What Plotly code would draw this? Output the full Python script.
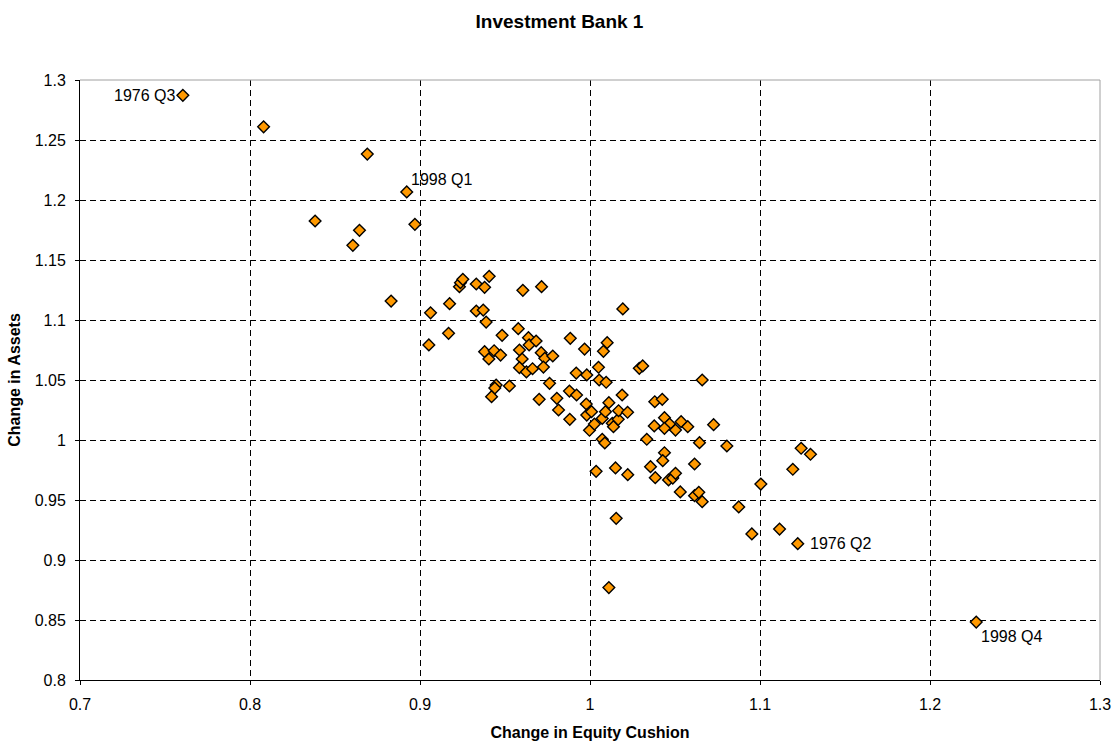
import plotly.graph_objects as go

# Quarterly changes: equity cushion (x) vs. total assets (y)
equity_cushion = [
    0.7605, 0.808, 0.869, 0.8922, 0.8383, 0.8644, 0.8605, 0.897,
    0.883, 0.9062, 0.9174, 0.9052, 0.9168, 0.9232, 0.9238, 0.9252,
    0.9331, 0.938, 0.9407, 0.9331, 0.9372, 0.9389, 0.9605, 0.9715,
    0.9483, 0.9578, 0.9638, 0.9642, 0.9683, 0.938, 0.9436, 0.9405,
    0.9474, 0.9585, 0.9601, 0.9585, 0.9626, 0.9662, 0.9713, 0.9734,
    0.9781, 0.9726, 0.9884, 0.9968, 0.9919, 0.9981, 1.005, 1.0079,
    1.0101, 1.0193, 1.0054, 1.0095, 1.029, 1.031, 0.9448, 0.944,
    0.9421, 0.9526, 0.9762, 0.9701, 0.9805, 0.9815, 0.9881, 0.9879,
    0.9921, 0.9978, 0.9981, 1.0009, 0.9997, 1.0026, 1.0072, 1.0091,
    1.0111, 1.0131, 1.0138, 1.0166, 1.0168, 1.0189, 1.0221, 1.0072,
    1.0087, 1.0334, 1.0381, 1.0425, 1.0438, 1.0468, 1.0438, 1.0503,
    1.0378, 1.0438, 1.0428, 1.066, 1.0536, 1.0575, 1.0727, 1.0644,
    1.0805, 1.1242, 1.1297, 1.1193, 1.0356, 1.0384, 1.0036, 1.015,
    1.0222, 1.0462, 1.0487, 1.0503, 1.0615, 1.0531, 1.0615, 1.064,
    1.066, 1.1005, 1.0875, 1.0952, 1.1115, 1.1222, 1.0154, 1.0111,
    1.2272,
]
asset_change = [
    1.2872, 1.261, 1.2383, 1.2067, 1.1825, 1.1747, 1.1622, 1.1797,
    1.1158, 1.106, 1.1136, 1.0792, 1.0889, 1.1278, 1.1311, 1.1339,
    1.13, 1.1272, 1.1364, 1.1075, 1.1083, 1.0983, 1.1247, 1.1278,
    1.0872, 1.0928, 1.0853, 1.0792, 1.0825, 1.0736, 1.0744, 1.0675,
    1.0708, 1.075, 1.0675, 1.0603, 1.0567, 1.0594, 1.0728, 1.0681,
    1.07, 1.0608, 1.0847, 1.0758, 1.0558, 1.0542, 1.0606, 1.0739,
    1.0811, 1.1092, 1.05, 1.0481, 1.0597, 1.0617, 1.0458, 1.0433,
    1.0361, 1.045, 1.0472, 1.0339, 1.0347, 1.025, 1.0172, 1.0408,
    1.0375, 1.03, 1.0208, 1.0236, 1.0081, 1.0133, 1.018, 1.0236,
    1.0311, 1.0139, 1.0111, 1.0172, 1.0244, 1.0375, 1.0231, 1.0006,
    0.9975, 1.0006, 1.0319, 1.0339, 1.0186, 1.0133, 1.0097, 1.0083,
    1.0117, 0.9894, 0.9828, 1.05, 1.0153, 1.0111, 1.0128, 0.9978,
    0.995, 0.9931, 0.9881, 0.9756, 0.9778, 0.9686, 0.9739, 0.9767,
    0.9711, 0.9667, 0.9683, 0.9722, 0.98, 0.9567, 0.9536, 0.9564,
    0.9486, 0.9633, 0.9442, 0.9217, 0.9258, 0.9136, 0.9347, 0.877,
    0.8483,
]

# Labelled quarters and where each label sits relative to its point
label_text = ["1976 Q3", "1998 Q1", "1976 Q2", "1998 Q4"]
label_x = [0.7605, 0.8922, 1.1222, 1.2272]
label_y = [1.2872, 1.2067, 0.9136, 0.8483]
label_anchor = [("right", "middle", -6, 0), ("left", "bottom", 2, 2),
                ("left", "middle", 10, 0), ("left", "top", 3, -4)]

font_family = "Liberation Sans, Arial, sans-serif"

fig = go.Figure()
fig.add_trace(go.Scatter(
    x=equity_cushion,
    y=asset_change,
    mode="markers",
    marker=dict(symbol="diamond", size=9, color="#FF9900",
                line=dict(color="black", width=1.4)),
    hoverinfo="x+y",
    showlegend=False,
))

for txt, lx, ly, (xa, ya, dx, dy) in zip(label_text, label_x, label_y, label_anchor):
    fig.add_annotation(
        x=lx, y=ly, text=txt, showarrow=False,
        xanchor=xa, yanchor=ya, xshift=dx, yshift=dy,
        font=dict(family=font_family, size=16, color="black"),
    )

axis_common = dict(
    showgrid=True,
    gridcolor="black",
    gridwidth=1,
    griddash="6px,4px",
    zeroline=False,
    ticks="outside",
    ticklen=4,
    tickcolor="black",
    showline=True,
    linecolor="black",
    linewidth=1,
    automargin=False,
    tickfont=dict(family=font_family, size=16, color="black"),
)

fig.update_xaxes(
    range=[0.7, 1.3], dtick=0.1, tick0=0.7,
    ticklabelstandoff=6,
    title=dict(text="<b>Change in Equity Cushion</b>",
               font=dict(family=font_family, size=16, color="black"), standoff=14),
    **axis_common,
)
fig.update_yaxes(
    range=[0.8, 1.3], dtick=0.05, tick0=0.8,
    ticklabelstandoff=6,
    title=dict(text="<b>Change in Assets</b>",
               font=dict(family=font_family, size=16, color="black"), standoff=10),
    **axis_common,
)

# light frame on the top and right edges of the plot area
fig.add_shape(type="line", xref="paper", yref="paper", x0=0, x1=1, y0=1, y1=1,
              line=dict(color="#A0A0A0", width=1))
fig.add_shape(type="line", xref="paper", yref="paper", x0=1, x1=1, y0=0, y1=1,
              line=dict(color="#A0A0A0", width=1))

fig.update_layout(
    width=1119,
    height=743,
    margin=dict(l=80, r=19, t=80, b=63, autoexpand=False),
    paper_bgcolor="white",
    plot_bgcolor="white",
    title=dict(text="<b>Investment Bank 1</b>", x=0.5, xanchor="center",
               y=1 - 21 / 743, yanchor="middle",
               font=dict(family=font_family, size=19, color="black")),
    font=dict(family=font_family, color="black"),
)

fig.write_html("out.html")
